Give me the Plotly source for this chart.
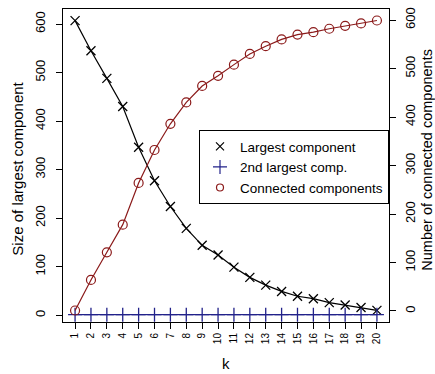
import plotly.graph_objects as go

k = list(range(1, 21))
largest = [607, 545, 488, 430, 346, 277, 224, 179, 144, 124, 99, 78, 62, 49, 39, 34, 26, 21, 16, 10]
second = [1] * 20
connected = [1, 64, 121, 178, 264, 332, 386, 430, 464, 485, 508, 530, 546, 560, 570, 575, 582, 588, 593, 599]
names = ["Largest component", "2nd largest comp.", "Connected components"]
left_ticks = [0, 100, 200, 300, 400, 500, 600]
right_ticks = [0, 100, 200, 300, 400, 500, 600]
x_title = "k"
left_title = "Size of largest component"
right_title = "Number of connected components"

RED = "#8B1A1A"
BLUE = "#22228A"
BLACK = "#000000"
FONT = "Liberation Sans, Arial, sans-serif"

fig = go.Figure()
fig.add_trace(go.Scatter(x=k, y=connected, yaxis="y2", mode="lines+markers",
                         line=dict(color=RED, width=1.2),
                         marker=dict(symbol="circle-open", size=9, color=RED, line=dict(width=1.2)),
                         showlegend=False))
fig.add_trace(go.Scatter(x=k, y=largest, mode="lines+markers",
                         line=dict(color=BLACK, width=1.2),
                         marker=dict(symbol="x-thin-open", size=9, color=BLACK, line=dict(width=1.3, color=BLACK)),
                         showlegend=False))
fig.add_trace(go.Scatter(x=k, y=second, mode="lines+markers",
                         line=dict(color=BLUE, width=1.2),
                         marker=dict(symbol="cross-thin-open", size=10, color=BLUE, line=dict(width=1.3, color=BLUE)),
                         showlegend=False))

# legend-only entries (markers only, as in the reference)
for nm, sym, col, sz in [(names[0], "x-thin-open", BLACK, 8), (names[1], "cross-thin-open", BLUE, 10),
                         (names[2], "circle-open", RED, 7)]:
    fig.add_trace(go.Scatter(x=[None], y=[None], mode="markers", name=nm,
                             marker=dict(symbol=sym, size=sz, color=col, line=dict(width=1.2, color=col))))

axis_common = dict(ticks="outside", ticklen=6, tickcolor="black", showgrid=False, zeroline=False,
                   showline=True, linecolor="black", linewidth=1, automargin=False)

fig.update_layout(
    width=435, height=374,
    margin=dict(l=63, r=46, t=9, b=52),
    plot_bgcolor="white", paper_bgcolor="white",
    font=dict(family=FONT, color="black", size=13),
    xaxis=dict(range=[0.24, 20.76], tickmode="array", tickvals=k, ticktext=[str(v) for v in k],
               tickangle=-90, tickfont=dict(size=10), mirror=True, **axis_common),
    yaxis=dict(range=[-14, 631], tickmode="array", tickvals=left_ticks, tickangle=-90,
               tickfont=dict(size=13), mirror=True, ticklabelstandoff=6, **axis_common),
    yaxis2=dict(range=[-22.7, 622.7], overlaying="y", side="right", tickmode="array", tickvals=right_ticks,
                tickangle=-90, tickfont=dict(size=13), ticklabelstandoff=3, **axis_common),
    legend=dict(x=1, y=0.613, xanchor="right", yanchor="top", bgcolor="white",
                bordercolor="black", borderwidth=1, font=dict(size=13.5), tracegroupgap=0,
                itemwidth=30),
    annotations=[
        dict(text=x_title, xref="paper", yref="paper", x=0.5, y=-0.131, showarrow=False,
             font=dict(size=15), xanchor="center", yanchor="middle"),
        dict(text=left_title, xref="paper", yref="paper", x=-0.138, y=0.49, showarrow=False,
             textangle=-90, font=dict(size=15), xanchor="center", yanchor="middle"),
        dict(text=right_title, xref="paper", yref="paper", x=1.118, y=0.52, showarrow=False,
             textangle=-90, font=dict(size=14.5), xanchor="center", yanchor="middle"),
    ],
)

fig.write_html("out.html", config={"displayModeBar": False},
               post_script="document.body.style.margin='0px';document.body.style.padding='0px';")
